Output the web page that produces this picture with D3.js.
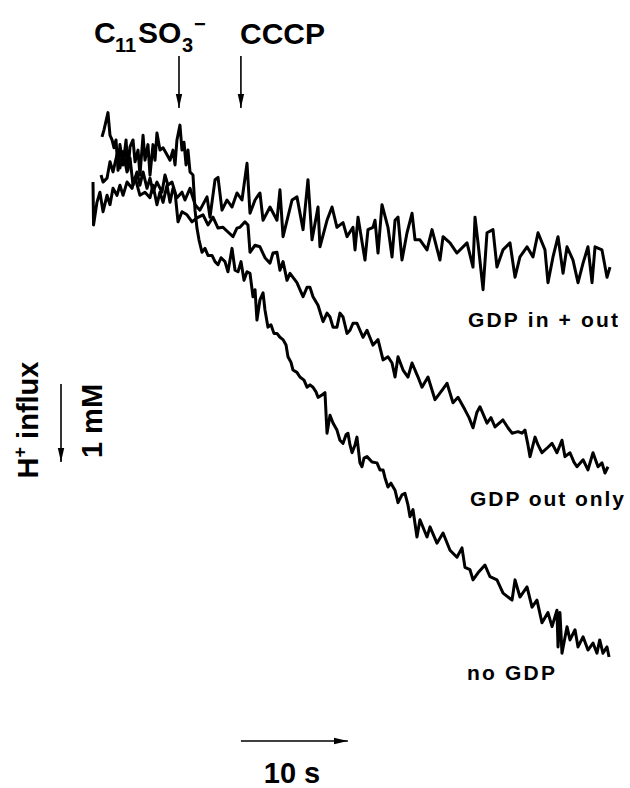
<!DOCTYPE html>
<html><head><meta charset="utf-8">
<script src="https://cdn.jsdelivr.net/npm/d3@7"></script>
<style>html,body{margin:0;padding:0;background:#fff}svg{display:block}text{font-family:"Liberation Sans",Arial,sans-serif;font-weight:bold;fill:#000}</style>
</head><body>
<script>
// time (s) and signal (mM, downward = H+ influx)
const inOutT = [0,0.05,0.37,0.65,0.94,1.31,1.59,1.87,2.24,2.52,2.81,3.18,3.65,3.93,4.39,4.86,5.33,5.61,5.98,6.26,6.55,6.92,7.20,7.48,7.85,8.32,8.60,9.07,9.54,10.00,10.66,10.94,11.41,11.69,12.06,12.53,13.00,13.46,13.93,14.40,14.68,15.15,15.61,15.90,16.55,17.20,17.48,17.77,18.61,19.07,19.64,20.10,20.48,21.04,21.22,21.88,22.35,22.81,23.38,23.75,24.31,24.50,24.78,25.43,25.71,26.18,26.37,26.65,27.02,27.58,27.96,28.24,28.52,28.89,29.36,29.83,30.11,30.57,31.23,31.70,32.44,32.73,33.38,34.03,34.97,35.53,35.72,36.00,36.47,36.84,37.40,37.77,38.33,38.99,39.46,39.92,40.58,41.14,41.61,42.26,42.54,43.01,43.48,43.95,44.32,44.88,45.35,45.82,46.28,46.66,46.94,47.59,48.06,48.34];
const inOutV = [0.23,-0.32,-0.03,0.10,-0.15,0.06,-0.06,0.15,0.06,0.19,0.06,0.23,0.15,0.29,0.06,0.10,0.03,0.19,-0.06,0.10,-0.03,0.19,-0.03,0.15,0.03,0.10,0.00,0.15,-0.06,-0.13,0.04,-0.22,0.26,0.29,-0.13,0.00,-0.09,0.09,0.00,0.47,-0.17,0.00,0.09,-0.26,-0.09,-0.26,0.13,-0.47,0.00,0.04,-0.38,0.26,-0.51,-0.09,-0.60,-0.26,-0.09,-0.35,-0.29,-0.47,-0.35,-0.64,-0.22,-0.77,-0.38,-0.35,-0.26,-0.68,-0.06,-0.35,-0.73,-0.26,-0.22,-0.77,-0.42,-0.17,-0.51,-0.51,-0.64,-0.38,-0.77,-0.47,-0.55,-0.68,-0.55,-0.86,-0.22,-0.55,-1.15,-0.42,-0.38,-0.86,-0.64,-0.55,-0.99,-0.73,-0.60,-0.73,-0.42,-0.64,-1.06,-0.73,-0.47,-0.94,-0.60,-0.77,-1.06,-0.81,-0.60,-1.06,-0.60,-0.64,-0.99,-0.86];

const outOnlyT = [0.75,0.94,1.31,1.59,1.87,2.24,2.52,2.81,3.18,3.46,3.74,4.11,4.39,4.68,5.05,5.33,5.61,5.98,6.45,6.73,7.01,7.39,7.67,7.95,8.32,8.79,9.26,9.72,10.29,10.75,11.22,11.69,12.16,12.62,13.09,13.46,13.74,14.21,14.49,14.68,15.15,15.61,16.08,16.55,16.83,17.20,17.48,17.77,18.14,18.42,19.07,19.35,19.64,20.01,20.29,20.57,21.04,21.51,21.88,22.16,22.44,22.81,23.09,23.38,23.75,24.03,24.31,24.68,25.25,25.62,26.18,26.65,27.12,27.58,27.96,28.24,28.52,28.99,29.45,29.83,30.39,30.76,31.32,31.98,32.63,33.10,33.66,34.13,34.78,35.16,35.53,35.90,36.18,36.84,37.21,37.59,38.33,38.80,39.18,39.74,40.11,40.39,40.67,40.86,41.33,41.61,41.98,42.54,42.92,43.38,43.85,44.13,44.60,44.97,45.25,45.82,46.28,46.75,47.22,47.59,47.87,48.15];
const outOnlyV = [0.32,0.23,0.28,0.49,0.36,0.58,0.41,0.62,0.36,0.54,0.19,0.36,0.19,0.36,0.15,0.28,0.10,0.23,0.10,0.32,0.19,0.23,0.10,-0.28,-0.15,-0.19,-0.28,-0.23,-0.19,-0.32,-0.22,-0.36,-0.35,-0.41,-0.47,-0.36,-0.35,-0.28,-0.32,-0.67,-0.58,-0.60,-0.74,-0.81,-0.68,-0.67,-0.90,-0.79,-1.03,-0.94,-1.06,-1.15,-1.24,-1.12,-1.12,-1.24,-1.35,-1.56,-1.45,-1.50,-1.63,-1.63,-1.45,-1.50,-1.71,-1.67,-1.58,-1.58,-1.76,-1.67,-1.86,-1.79,-2.05,-2.01,-2.09,-2.27,-2.01,-2.18,-2.27,-2.09,-2.27,-2.40,-2.27,-2.56,-2.44,-2.35,-2.60,-2.53,-2.69,-2.79,-2.92,-2.72,-2.65,-2.86,-2.79,-2.91,-2.82,-2.92,-2.99,-2.97,-2.99,-2.95,-3.14,-3.29,-3.04,-3.14,-3.24,-3.17,-3.12,-3.24,-3.08,-3.29,-3.24,-3.36,-3.42,-3.33,-3.46,-3.24,-3.42,-3.37,-3.50,-3.42];

const noGdpT = [0.84,1.03,1.40,1.59,1.78,1.96,2.15,2.34,2.52,2.81,3.09,3.27,3.46,3.74,3.93,4.21,4.39,4.68,4.86,5.14,5.33,5.61,5.80,5.98,6.26,6.55,6.92,7.20,7.48,7.67,7.85,8.13,8.32,8.51,8.70,8.88,9.07,9.35,9.54,9.72,9.91,10.19,10.47,10.75,11.13,11.41,11.69,11.97,12.34,12.62,13.00,13.28,13.56,13.84,14.12,14.40,14.68,14.96,15.15,15.33,15.61,15.90,16.08,16.36,16.64,16.92,17.20,17.48,17.77,18.05,18.23,18.51,18.70,19.07,19.35,19.73,20.01,20.29,20.57,20.85,21.04,21.41,21.69,21.88,22.16,22.44,22.81,23.09,23.38,23.66,23.84,24.03,24.22,24.50,24.68,24.96,25.15,25.34,25.62,26.09,26.55,26.83,27.12,27.30,27.58,27.86,28.24,28.52,28.89,29.17,29.45,29.64,29.92,30.29,30.57,31.23,31.51,32.16,32.73,33.38,34.03,34.50,34.78,35.25,35.53,36.00,36.65,37.12,37.77,38.34,39.18,39.46,39.92,40.58,41.05,41.51,41.98,42.54,42.92,43.38,43.48,43.66,43.85,44.32,44.60,45.07,45.35,45.82,46.28,46.75,47.12,47.38,47.68,48.06,48.25];
const noGdpV = [0.81,0.90,1.12,0.83,0.77,0.67,0.77,0.38,0.71,0.45,0.77,0.38,0.68,0.77,0.49,0.64,0.32,0.83,0.51,0.71,0.32,0.71,0.51,0.86,0.64,0.67,0.58,0.51,0.64,0.45,0.77,0.96,0.64,0.74,0.45,0.64,0.36,0.32,-0.13,-0.36,-0.51,-0.67,-0.62,-0.71,-0.71,-0.79,-0.83,-0.74,-0.79,-0.92,-0.62,-0.90,-0.92,-0.79,-1.03,-0.92,-0.94,-1.24,-1.15,-1.54,-1.28,-1.19,-1.41,-1.63,-1.60,-1.71,-1.71,-1.76,-1.79,-1.86,-2.01,-2.08,-2.18,-2.21,-2.27,-2.31,-2.40,-2.37,-2.40,-2.46,-2.53,-2.50,-2.47,-2.99,-2.76,-2.86,-2.95,-3.08,-3.12,-3.01,-2.99,-3.14,-3.24,-3.14,-3.04,-3.37,-3.42,-3.31,-3.29,-3.36,-3.37,-3.46,-3.46,-3.56,-3.68,-3.63,-3.72,-3.88,-3.78,-3.76,-3.91,-4.06,-3.97,-4.32,-4.10,-4.32,-4.19,-4.40,-4.27,-4.49,-4.58,-4.46,-4.71,-4.74,-4.87,-4.78,-4.68,-4.83,-4.87,-5.04,-5.13,-4.87,-5.09,-4.96,-5.22,-5.13,-5.42,-5.29,-5.47,-5.26,-5.73,-5.29,-5.81,-5.47,-5.64,-5.51,-5.73,-5.60,-5.77,-5.68,-5.81,-5.64,-5.81,-5.73,-5.86];

const traceLabels = ["GDP in + out", "GDP out only", "no GDP"];
const additionTimes = [8.04, 13.83];   // C11SO3−, CCCP
const scaleBarTime = [13.83, 23.83];   // 10 s
const scaleBarConc = [0, -1];          // 1 mM

const W = 630, H = 788;
const svg = d3.select("body").append("svg").attr("width", W).attr("height", H);
const x = d3.scaleLinear().domain([0, 48.34]).range([93, 610]);
const y = d3.scaleLinear().domain([0, -1]).range([200, 278]);

const line = d3.line().x(d => x(d[0])).y(d => y(d[1]));
const series = [
  d3.zip(inOutT, inOutV),
  d3.zip(outOnlyT, outOnlyV),
  d3.zip(noGdpT, noGdpV)
];
svg.selectAll("path.trace").data(series).join("path")
  .attr("class", "trace")
  .attr("d", line)
  .attr("fill", "none").attr("stroke", "#000")
  .attr("stroke-width", 3).attr("stroke-linejoin", "round");

// arrowheads
const defs = svg.append("defs");
defs.append("marker").attr("id", "ah").attr("viewBox", "0 0 14 8")
  .attr("refX", 14).attr("refY", 4).attr("markerWidth", 14).attr("markerHeight", 8)
  .attr("markerUnits", "userSpaceOnUse").attr("orient", "auto")
  .append("path").attr("d", "M0,0.8 L14,4 L0,7.2 Z").attr("fill", "#000");

// addition arrows
additionTimes.forEach(t => {
  svg.append("line").attr("x1", x(t)).attr("x2", x(t))
    .attr("y1", 56).attr("y2", 108)
    .attr("stroke", "#000").attr("stroke-width", 1.6).attr("marker-end", "url(#ah)");
});

// addition labels
const lab = svg.append("text").attr("font-size", 30);
lab.append("tspan").attr("x", 94).attr("y", 43).text("C");
lab.append("tspan").attr("x", 115).attr("y", 52).attr("font-size", 20).text("11");
lab.append("tspan").attr("x", 138).attr("y", 43).text("SO");
lab.append("tspan").attr("x", 182).attr("y", 52).attr("font-size", 20).text("3");
lab.append("tspan").attr("x", 194).attr("y", 31).attr("font-size", 20).text("−");
svg.append("text").attr("x", 240).attr("y", 44).attr("font-size", 30).text("CCCP");

// trace labels
const labelPos = [[468, 327, 150], [470, 506, 154], [467, 680, 88]];
traceLabels.forEach((t, i) => {
  svg.append("text").attr("x", labelPos[i][0]).attr("y", labelPos[i][1])
    .attr("font-size", 21).attr("textLength", labelPos[i][2])
    .attr("lengthAdjust", "spacing").text(t);
});

// time scale bar
svg.append("line").attr("x1", x(scaleBarTime[0])).attr("x2", x(scaleBarTime[1]))
  .attr("y1", 741).attr("y2", 741).attr("stroke", "#000").attr("stroke-width", 1.6)
  .attr("marker-end", "url(#ah)");
svg.append("text").attr("x", 292).attr("y", 783).attr("text-anchor", "middle")
  .attr("font-size", 29).text("10 s");

// concentration scale bar
const cLen = y(scaleBarConc[1]) - y(scaleBarConc[0]);
svg.append("line").attr("x1", 61).attr("x2", 61).attr("y1", 384).attr("y2", 384 + cLen)
  .attr("stroke", "#000").attr("stroke-width", 1.6).attr("marker-end", "url(#ah)");
const hl = svg.append("text").attr("transform", "translate(38,420) rotate(-90)")
  .attr("text-anchor", "middle").attr("font-size", 29);
hl.append("tspan").text("H");
hl.append("tspan").attr("font-size", 18).attr("dy", -12).text("+");
hl.append("tspan").attr("dy", 12).text(" influx");
svg.append("text").attr("transform", "translate(102,421) rotate(-90)")
  .attr("text-anchor", "middle").attr("font-size", 29).text("1 mM");
</script>
</body></html>
